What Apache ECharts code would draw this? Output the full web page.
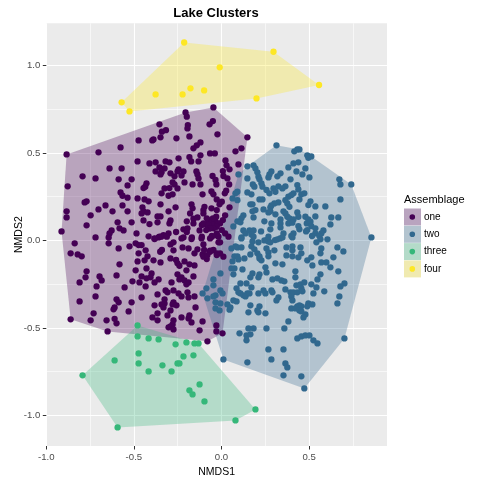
<!DOCTYPE html>
<html><head><meta charset="utf-8">
<style>html,body{margin:0;padding:0;background:#fff}#c{width:480px;height:480px}</style>
<script src="https://cdn.jsdelivr.net/npm/echarts@6/dist/echarts.min.js"></script>
</head><body><div id="c"></div>
<script>
const titleText = 'Lake Clusters';
const legendTitle = 'Assemblage';
const groupNames = ['one','two','three','four'];
const pointColors = ['#440154','#31688E','#35B779','#FDE725'];
const keyColors = ['#B9A4BF','#B3C4CF','#B4DBC9','#F0EAB0'];
const xMajor = [-1,-0.5,0,0.5];
const yMajor = [-1,-0.5,0,0.5,1];
const xMinor = [-0.75,-0.25,0.25,0.75];
const yMinor = [-0.75,-0.25,0.25,0.75];
const xRange = [-1,0.945];
const yRange = [-1.175,1.2406];

const onePts = [[-0.205,0.731],[-0.198,0.707],[-0.354,0.663],[-0.317,0.630],[-0.340,0.621],[-0.192,0.659],[-0.194,0.640],[-0.049,0.682],[-0.068,0.663],[-0.023,0.606],[-0.183,0.594],[-0.257,0.583],[-0.348,0.589],[-0.388,0.577],[-0.395,0.571],[-0.473,0.571],[-0.120,0.560],[-0.141,0.543],[-0.160,0.526],[-0.576,0.531],[-0.884,0.491],[-0.702,0.503],[-0.065,0.497],[-0.038,0.497],[-0.245,0.469],[-0.183,0.476],[-0.173,0.451],[-0.120,0.486],[-0.131,0.451],[-0.479,0.451],[-0.411,0.440],[-0.376,0.446],[-0.319,0.451],[-0.297,0.446],[-0.639,0.411],[-0.570,0.411],[-0.354,0.417],[-0.325,0.411],[-0.376,0.394],[-0.342,0.389],[-0.348,0.377],[-0.245,0.406],[-0.251,0.394],[-0.217,0.394],[-0.291,0.383],[-0.268,0.366],[-0.228,0.371],[-0.143,0.394],[-0.137,0.377],[-0.131,0.354],[-0.051,0.368],[-0.034,0.345],[-0.793,0.366],[-0.719,0.354],[-0.513,0.349],[-0.587,0.349],[-0.211,0.331],[-0.165,0.320],[-0.120,0.320],[-0.279,0.331],[-0.268,0.320],[-0.428,0.326],[-0.435,0.307],[-0.536,0.314],[-0.445,0.299],[-0.878,0.309],[-0.325,0.297],[-0.297,0.299],[-0.251,0.297],[-0.576,0.274],[-0.565,0.255],[-0.536,0.244],[-0.342,0.269],[-0.302,0.255],[-0.279,0.263],[-0.108,0.263],[-0.057,0.280],[-0.046,0.263],[-0.479,0.240],[-0.439,0.234],[-0.416,0.223],[-0.027,0.234],[-0.770,0.223],[-0.781,0.217],[-0.662,0.200],[-0.348,0.206],[-0.565,0.200],[-0.171,0.206],[-0.165,0.183],[-0.097,0.192],[-0.103,0.173],[-0.262,0.189],[-0.702,0.177],[-0.622,0.166],[-0.536,0.166],[-0.451,0.189],[-0.445,0.166],[-0.422,0.160],[-0.302,0.166],[-0.456,0.154],[-0.884,0.166],[-0.884,0.131],[-0.747,0.143],[-0.179,0.154],[-0.160,0.124],[-0.137,0.131],[-0.103,0.154],[-0.057,0.183],[-0.027,0.173],[-0.365,0.137],[-0.348,0.137],[-0.770,0.086],[-0.593,0.103],[-0.513,0.103],[-0.445,0.114],[-0.411,0.093],[-0.365,0.103],[-0.291,0.114],[-0.297,0.097],[-0.198,0.109],[-0.160,0.097],[-0.913,0.051],[-0.627,0.057],[-0.639,0.040],[-0.644,0.017],[-0.582,0.069],[-0.559,0.057],[-0.485,0.040],[-0.719,0.017],[-0.416,0.023],[-0.382,0.011],[-0.354,0.021],[-0.331,0.030],[-0.302,0.040],[-0.259,0.048],[-0.217,0.063],[-0.194,0.069],[-0.198,0.048],[-0.125,0.057],[-0.112,0.088],[-0.074,0.116],[-0.055,0.107],[-0.036,0.116],[-0.084,0.088],[-0.065,0.069],[-0.046,0.088],[-0.017,0.097],[-0.055,0.021],[-0.217,0.017],[-0.169,0.017],[-0.112,0.021],[-0.027,0.030],[-0.359,0.017],
[-0.046,0.760],[0.148,0.589],[0.114,0.526],[0.080,0.509],[0.023,0.457],[0.097,0.434],[0.046,0.406],[0.029,0.429],[0.008,0.396],[0.011,0.368],[0.034,0.354],[-0.029,0.320],[0.044,0.320],[0.027,0.284],[0.019,0.269],[0.002,0.221],[-0.011,0.206],[0.046,0.189],[0.021,0.143],[-0.030,0.135],[-0.084,0.126],[-0.049,0.126],[-0.103,0.097],[0.008,0.116],[-0.008,0.097],[-0.027,0.078],[-0.046,0.069],[-0.074,0.088],[-0.065,0.069],[-0.087,0.059],[-0.027,0.040],[0.021,0.040],[0.002,0.059],[-0.055,0.025],[-0.017,0.021],
[-0.838,-0.017],[-0.861,-0.074],[-0.821,-0.080],[-0.798,-0.091],[-0.644,-0.017],[-0.587,-0.046],[-0.525,-0.034],[-0.490,-0.017],[-0.473,-0.027],[-0.456,-0.027],[-0.433,-0.057],[-0.473,-0.074],[-0.422,-0.091],[-0.439,-0.114],[-0.479,-0.120],[-0.388,-0.114],[-0.348,-0.126],[-0.582,-0.137],[-0.770,-0.177],[-0.776,-0.211],[-0.810,-0.240],[-0.696,-0.206],[-0.684,-0.229],[-0.599,-0.200],[-0.490,-0.171],[-0.428,-0.160],[-0.399,-0.189],[-0.456,-0.206],[-0.428,-0.217],[-0.405,-0.211],[-0.359,-0.223],[-0.382,-0.240],[-0.508,-0.234],[-0.468,-0.240],[-0.433,-0.263],[-0.285,-0.240],[-0.553,-0.269],[-0.713,-0.263],[-0.719,-0.320],[-0.810,-0.349],[-0.599,-0.337],[-0.587,-0.354],[-0.513,-0.354],[-0.456,-0.326],[-0.365,-0.309],[-0.319,-0.286],[-0.308,-0.297],[-0.274,-0.286],[-0.245,-0.303],[-0.228,-0.320],[-0.194,-0.297],[-0.188,-0.326],[-0.154,-0.320],[-0.325,-0.337],[-0.325,-0.360],[-0.342,-0.366],[-0.331,-0.383],[-0.274,-0.354],[-0.279,-0.366],[-0.257,-0.371],[-0.382,-0.371],[-0.148,-0.383],[-0.610,-0.383],[-0.616,-0.394],[-0.530,-0.406],[-0.730,-0.417],[-0.365,-0.417],[-0.291,-0.400],[-0.308,-0.429],[-0.394,-0.440],[-0.365,-0.457],[-0.228,-0.440],[-0.188,-0.446],[-0.183,-0.429],[-0.171,-0.469],[-0.108,-0.463],[-0.861,-0.451],[-0.747,-0.457],[-0.656,-0.457],[-0.610,-0.448],[-0.599,-0.474],[-0.274,-0.457],[-0.279,-0.480],[-0.291,-0.491],[-0.302,-0.497],[-0.274,-0.509],[-0.650,-0.520],[-0.125,-0.514],[-0.080,-0.577],[-0.029,-0.486],[-0.029,-0.520],[-0.251,-0.194],[-0.228,-0.211],[-0.240,-0.223],[-0.211,-0.229],[-0.188,-0.240],[-0.200,-0.251],[-0.160,-0.206],[-0.200,-0.171],[-0.259,-0.112],[-0.251,-0.131],[-0.240,-0.145],[-0.211,-0.120],[-0.154,-0.143],[-0.183,-0.137],[-0.291,-0.103],[-0.274,-0.057],[-0.222,-0.040],[-0.188,-0.046],[-0.137,-0.051],[-0.154,-0.074],[-0.108,-0.080],[-0.274,-0.011],[-0.291,-0.023],[-0.228,0.011],[-0.171,0.008],[-0.114,0.011],[-0.103,-0.023],[-0.065,0.011],[-0.046,-0.055],[-0.065,-0.065],[-0.084,-0.107],[-0.103,-0.093],[-0.027,-0.074],[-0.017,-0.011],[-0.350,-0.065],[-0.340,-0.055],[-0.382,0.008],[-0.344,0.021],[-0.312,0.021],
[0.006,-0.531],[-0.008,-0.011],[0.011,-0.093],[0.040,0.021],[-0.008,-0.074],[-0.027,-0.084],[-0.065,-0.059],[-0.099,-0.055],[-0.080,-0.084]];

const twoPts = [[0.314,0.543],[0.416,0.509],[0.433,0.520],[0.445,0.520],[0.490,0.486],[0.513,0.480],[0.496,0.472],[0.411,0.440],[0.439,0.446],[0.382,0.417],[0.479,0.411],[0.428,0.394],[0.462,0.377],[0.502,0.360],[0.148,0.423],[0.183,0.429],[0.194,0.411],[0.205,0.389],[0.211,0.364],[0.217,0.349],[0.097,0.377],[0.148,0.354],[0.285,0.394],[0.274,0.377],[0.268,0.360],[0.337,0.383],[0.319,0.366],[0.394,0.349],[0.673,0.349],[0.679,0.320],[0.741,0.320],[0.179,0.320],[0.188,0.307],[0.228,0.326],[0.234,0.307],[0.297,0.297],[0.325,0.309],[0.308,0.278],[0.365,0.309],[0.348,0.297],[0.433,0.316],[0.439,0.291],[0.257,0.288],[0.274,0.269],[0.456,0.263],[0.473,0.269],[0.148,0.274],[0.171,0.263],[0.217,0.234],[0.234,0.234],[0.091,0.278],[0.080,0.269],[0.091,0.230],[0.063,0.240],[0.411,0.269],[0.382,0.250],[0.365,0.230],[0.376,0.211],[0.388,0.192],[0.399,0.259],[0.445,0.234],[0.679,0.234],[0.536,0.194],[0.593,0.194],[0.508,0.223],[0.496,0.202],[0.165,0.206],[0.177,0.206],[0.325,0.217],[0.302,0.211],[0.285,0.200],[0.279,0.189],[0.194,0.173],[0.177,0.166],[0.240,0.177],[0.268,0.160],[0.279,0.166],[0.354,0.166],[0.365,0.154],[0.433,0.160],[0.308,0.149],[0.376,0.135],[0.388,0.126],[0.439,0.135],[0.411,0.120],[0.536,0.137],[0.627,0.131],[0.667,0.131],[0.622,0.091],[0.125,0.143],[0.114,0.126],[0.183,0.131],[0.245,0.109],[0.285,0.097],[0.337,0.120],[0.337,0.097],[0.382,0.097],[0.405,0.101],[0.479,0.135],[0.496,0.120],[0.487,0.097],[0.508,0.107],[0.513,0.082],[0.439,0.082],[0.445,0.063],[0.068,0.080],[0.091,0.109],[0.108,0.103],[0.337,0.074],[0.354,0.040],[0.279,0.063],[0.226,0.051],[0.125,0.057],[0.137,0.040],[0.160,0.057],[0.183,0.057],[0.171,0.034],[0.411,0.040],[0.399,0.025],[0.483,0.051],[0.490,0.059],[0.536,0.069],[0.582,0.057],[0.570,0.040],[0.536,0.040],[0.517,0.025],[0.559,0.025],[0.856,0.017],[0.114,0.017],[0.605,0.006],[0.259,0.002],[0.335,0.011],[0.306,0.002],
[0.696,-0.063],[0.662,-0.040],[0.639,-0.097],[0.565,0.006],[0.542,-0.011],[0.570,-0.046],[0.565,-0.074],[0.513,-0.097],[0.490,-0.114],[0.519,-0.143],[0.570,-0.126],[0.599,-0.126],[0.622,-0.154],[0.667,-0.177],[0.565,-0.194],[0.548,-0.223],[0.702,-0.246],[0.679,-0.263],[0.513,-0.251],[0.542,-0.269],[0.525,-0.303],[0.587,-0.291],[0.673,-0.320],[0.662,-0.360],[0.405,0.017],[0.348,0.017],[0.319,0.006],[0.268,-0.006],[0.245,0],[0.279,-0.011],[0.211,-0.011],[0.177,-0.006],[0.171,-0.034],[0.188,-0.051],[0.257,-0.046],[0.268,-0.069],[0.268,-0.091],[0.302,-0.057],[0.371,-0.040],[0.405,-0.034],[0.405,-0.057],[0.451,-0.040],[0.371,-0.086],[0.405,-0.091],[0.439,-0.097],[0.456,-0.074],[0.348,-0.137],[0.308,-0.131],[0.251,-0.154],[0.257,-0.183],[0.422,-0.177],[0.422,-0.211],[0.217,-0.194],[0.211,-0.211],[0.177,-0.189],[0.165,-0.211],[0.291,-0.223],[0.319,-0.217],[0.342,-0.229],[0.359,-0.234],[0.108,-0.246],[0.143,-0.246],[0.171,-0.269],[0.086,-0.274],[0.097,-0.297],[0.108,-0.303],[0.125,-0.314],[0.148,-0.303],[0.137,-0.320],[0.160,-0.303],[0.211,-0.303],[0.240,-0.286],[0.251,-0.303],[0.285,-0.286],[0.291,-0.297],[0.365,-0.280],[0.394,-0.297],[0.411,-0.297],[0.433,-0.297],[0.399,-0.320],[0.405,-0.343],[0.325,-0.326],[0.314,-0.343],[0.428,-0.257],[0.451,-0.251],[0.473,-0.240],[0.456,-0.274],[0.462,-0.291],[0.068,-0.343],[0.086,-0.349],[0.034,-0.366],[0.051,-0.383],[0.046,-0.396],[0.165,-0.371],[0.217,-0.377],[0.205,-0.400],[0.211,-0.411],[0.154,-0.411],[0.251,-0.417],[0.399,-0.389],[0.433,-0.377],[0.445,-0.371],[0.456,-0.377],[0.422,-0.389],[0.445,-0.400],[0.456,-0.406],[0.496,-0.360],[0.519,-0.366],[0.490,-0.377],[0.479,-0.423],[0.468,-0.440],[0.382,-0.463],[0.154,-0.503],[0.183,-0.503],[0.257,-0.503],[0.359,-0.503],[0.103,-0.531],[0.143,-0.543],[0.165,-0.537],[0.143,-0.571],[0.433,-0.560],[0.456,-0.549],[0.479,-0.543],[0.502,-0.543],[0.525,-0.571],[0.548,-0.589],[0.702,-0.560],[0.268,-0.623],[0.354,-0.623],[0.011,-0.680],[0.148,-0.697],[0.285,-0.680],[0.365,-0.703],[0.376,-0.726],[0.354,-0.771],[0.456,-0.777],[0.473,-0.846],[-0.006,-0.189],[-0.046,-0.223],[-0.046,-0.257],[-0.086,-0.274],[-0.108,-0.303],[-0.006,-0.286],[0.006,-0.303],[-0.034,-0.314],[-0.046,-0.320],[-0.080,-0.331],[-0.034,-0.354],[-0.006,-0.360],[-0.034,-0.389],[-0.011,-0.400],[0.057,-0.046],[0.091,-0.040],[0.114,-0.040],[0.131,-0.103],[0.074,-0.091],[0.091,-0.091],[0.097,-0.109],[0.063,-0.120],[0.057,-0.160],[0.074,-0.160],[0.120,-0.166],[0.068,-0.194],[0.114,0.011],[0.080,-0.034],[0.205,-0.074],[0.217,-0.103],[0.228,-0.114],[0.217,-0.091],[0.165,-0.080],[0.183,0.021],[0.268,0.021]];

const threePts = [[-0.479,-0.486],[-0.479,-0.549],[-0.416,-0.560],[-0.359,-0.566],[-0.262,-0.594],[-0.200,-0.583],[-0.154,-0.589],[-0.131,-0.589],[-0.473,-0.646],[-0.610,-0.686],[-0.473,-0.703],[-0.793,-0.771],[-0.416,-0.749],[-0.337,-0.714],[-0.285,-0.749],[-0.251,-0.703],[-0.240,-0.703],[-0.217,-0.663],[-0.160,-0.657],[-0.125,-0.823],[-0.183,-0.857],[-0.165,-0.880],[-0.097,-0.920],[-0.593,-1.069],[0.080,-1.029],[0.194,-0.966]];

const fourPts = [[-0.213,1.131],[-0.570,0.789],[-0.525,0.737],[-0.376,0.834],[-0.222,0.834],[-0.177,0.869],[-0.099,0.857],[-0.010,0.989],[0.297,1.078],[0.557,0.888],[0.200,0.811]];

const groupPts = [onePts,twoPts,threePts,fourPts];

function hull(pts){
  const p = pts.slice().sort((a,b)=>a[0]-b[0]||a[1]-b[1]);
  const cross=(o,a,b)=>(a[0]-o[0])*(b[1]-o[1])-(a[1]-o[1])*(b[0]-o[0]);
  const lo=[],up=[];
  for(const q of p){while(lo.length>=2&&cross(lo[lo.length-2],lo[lo.length-1],q)<=0)lo.pop();lo.push(q);}
  for(let i=p.length-1;i>=0;i--){const q=p[i];while(up.length>=2&&cross(up[up.length-2],up[up.length-1],q)<=0)up.pop();up.push(q);}
  lo.pop();up.pop();return lo.concat(up);
}

const FF='"Liberation Sans",Arial,sans-serif';
const polySeries = groupNames.map((n,i)=>{
  const h=hull(groupPts[i]);
  return {type:'custom',name:n,coordinateSystem:'cartesian2d',xAxisIndex:0,yAxisIndex:0,silent:true,z:2,clip:false,
    itemStyle:{color:pointColors[i],opacity:0.3},
    data:h,
    encode:{x:0,y:1},
    renderItem:(params,api)=>{
      if(params.dataIndex!==0) return null;
      return {type:'polygon',shape:{points:h.map(q=>api.coord(q))},style:{fill:pointColors[i],opacity:0.3}};
    }};
});
const ptSeries = groupNames.map((n,i)=>({
  type:'scatter',name:n,xAxisIndex:0,yAxisIndex:0,data:groupPts[i],z:3,symbolSize:6.3,silent:true,
  itemStyle:{color:pointColors[i],opacity:1}
}));
const tickStyle={stroke:'#333333',fill:null,lineWidth:1.2};
const tickSeries=[
  {type:'custom',name:'xticks',coordinateSystem:'cartesian2d',silent:true,clip:false,z:4,
   data:xMajor.map(v=>[v,yRange[0]]),encode:{x:0,y:1},
   renderItem:(p,api)=>{const c=api.coord([api.value(0),api.value(1)]);const x=Math.round(c[0])+0.5;
     return {type:'rect',shape:{x:x-0.5,y:c[1],width:1,height:3.5},style:{fill:'#333333'}};}},
  {type:'custom',name:'yticks',coordinateSystem:'cartesian2d',silent:true,clip:false,z:4,
   data:yMajor.map(v=>[xRange[0],v]),encode:{x:0,y:1},
   renderItem:(p,api)=>{const c=api.coord([api.value(0),api.value(1)]);const y=Math.round(c[1])+0.5;
     return {type:'rect',shape:{x:c[0]-3.5,y:y-0.5,width:3.5,height:1},style:{fill:'#333333'}};}}
];

const fmt=v=>Number(v).toFixed(1);
const keyX=412.3, keyY=[217,234.3,251.6,268.9];
const chart=echarts.init(document.getElementById('c'),null,{renderer:'canvas'});
chart.setOption({
  animation:false,backgroundColor:'#fff',
  title:{text:titleText,left:211,top:2,textAlign:'center',textStyle:{fontFamily:FF,fontSize:13,fontWeight:'bold',color:'#000'}},
  grid:{left:46.3,right:93,top:23.3,bottom:34,show:true,backgroundColor:'#EBEBEB',borderWidth:0,containLabel:false,outerBoundsMode:'none'},
  xAxis:[{type:'value',min:xRange[0],max:xRange[1],position:'bottom',name:'NMDS1',nameLocation:'center',nameGap:20,
    nameTextStyle:{fontFamily:FF,fontSize:10.5,color:'#000'},
    axisLine:{show:false,onZero:false},axisTick:{show:false,customValues:xMajor},
    axisLabel:{fontFamily:FF,fontSize:9.6,color:'#4D4D4D',margin:6,customValues:xMajor,formatter:fmt},
    splitLine:{show:true,lineStyle:{color:'#fff',width:1.1}}},
   {type:'value',min:xRange[0],max:xRange[1],position:'top',axisLine:{show:false,onZero:false},
    axisTick:{show:false,customValues:xMinor},axisLabel:{show:false,customValues:xMinor},
    splitLine:{show:true,lineStyle:{color:'#fff',width:0.6}}}],
  yAxis:[{type:'value',min:yRange[0],max:yRange[1],position:'left',name:'NMDS2',nameLocation:'center',nameGap:22,nameMoveOverlap:false,
    nameTextStyle:{fontFamily:FF,fontSize:10.5,color:'#000'},
    axisLine:{show:false,onZero:false},axisTick:{show:false,customValues:yMajor},
    axisLabel:{fontFamily:FF,fontSize:9.6,color:'#4D4D4D',margin:6,customValues:yMajor,formatter:fmt},
    splitLine:{show:true,lineStyle:{color:'#fff',width:1.1}}},
   {type:'value',min:yRange[0],max:yRange[1],position:'right',axisLine:{show:false,onZero:false},
    axisTick:{show:false,customValues:yMinor},axisLabel:{show:false,customValues:yMinor},
    splitLine:{show:true,lineStyle:{color:'#fff',width:0.6}}}],
  legend:{show:true,orient:'vertical',left:404,top:208.5,itemWidth:17,itemHeight:17,itemGap:0.3,padding:0,selectedMode:false,
    textStyle:{fontFamily:FF,fontSize:10,color:'#000',padding:[0,0,0,-2]},
    data:groupNames.map((n,i)=>({name:n,icon:'rect',itemStyle:{color:keyColors[i],opacity:1,borderWidth:0}}))},
  graphic:[{type:'text',left:404,top:194,style:{text:legendTitle,font:'11px '+FF,fill:'#000'},z:10}]
    .concat(groupNames.map((n,i)=>({type:'circle',shape:{cx:keyX,cy:keyY[i],r:2.8},style:{fill:pointColors[i]},z:10,silent:true}))),
  series:polySeries.concat(ptSeries).concat(tickSeries)
});
</script></body></html>
